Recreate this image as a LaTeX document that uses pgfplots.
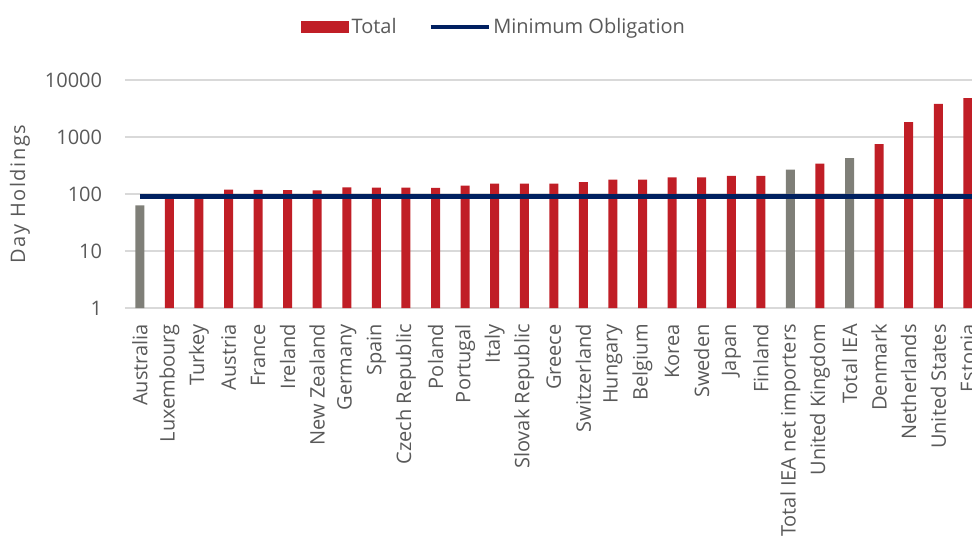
\documentclass[border=0pt]{standalone}
\usepackage{pgfplots}
\pgfplotsset{compat=1.18}
\usepackage{fontspec}
\setmainfont{Open Sans}
\definecolor{barred}{RGB}{192,30,38}
\definecolor{bargrey}{RGB}{127,127,120}
\definecolor{navy}{RGB}{0,32,96}
\definecolor{gridc}{RGB}{217,217,217}
\definecolor{txt}{RGB}{89,89,89}
\begin{document}
\begin{tikzpicture}
\begin{axis}[
  scale only axis,
  width=635.25pt, height=171pt,
  ymode=log,
  ymin=1, ymax=10000,
  xmin=-0.5, xmax=28.14,
  ytick={1,10,100,1000,10000},
  yticklabels={1,10,100,1000,10000},
  xtick={0,...,28},
  xticklabels={Australia,Luxembourg,Turkey,Austria,France,Ireland,New Zealand,Germany,Spain,Czech Republic,Poland,Portugal,Italy,Slovak Republic,Greece,Switzerland,Hungary,Belgium,Korea,Sweden,Japan,Finland,Total IEA net importers,United Kingdom,Total IEA,Denmark,Netherlands,United States,Estonia},
  xticklabel style={rotate=90, anchor=east, font=\fontsize{15}{18}\selectfont, text=txt, inner sep=0pt, xshift=-12pt},
  yticklabel style={font=\fontsize{15}{18}\selectfont, text=txt, inner sep=0pt, xshift=-17pt},
  major tick length=0pt,
  minor tick length=0pt,
  ymajorgrids,
  grid style={gridc, line width=1pt},
  axis line style={draw=none},
  ylabel={Day Holdings},
  ylabel style={font=\fontsize{15}{18}\selectfont\addfontfeatures{LetterSpace=8}, text=txt, at={(rel axis cs:0,0.5)}, anchor=center, yshift=78.75pt},
  legend style={draw=none, fill=none, at={(rel axis cs:0.436,1.232)}, anchor=center,
    font=\fontsize{15}{18}\selectfont, text=txt, legend columns=2,
    /tikz/every even column/.append style={column sep=22pt}},
  clip=true,
]
\addplot[ybar, bar width=6.75pt, bar shift=0pt, fill=barred, draw=none,
  legend image code/.code={\fill[barred] (-4pt,-4.5pt) rectangle (32pt,4.5pt);}]
  coordinates {(1,92) (2,91) (3,119) (4,118) (5,117) (6,116) (7,131) (8,130) (9,129) (10,128) (11,140) (12,152) (13,152) (14,152) (15,162) (16,178) (17,178) (18,195) (19,195) (20,209) (21,209) (23,340) (25,754) (26,1830) (27,3830) (28,4800)};
\addlegendentry{Total}
\addplot[ybar, bar width=6.75pt, bar shift=0pt, fill=bargrey, draw=none, forget plot]
  coordinates {(0,63) (22,267) (24,428)};
\addplot[navy, line width=3.6pt, mark=none,
  legend image code/.code={\draw[navy, line width=3pt] (0pt,0pt) -- (43.5pt,0pt);}]
  coordinates {(0,90) (28.14,90)};
\addlegendentry{Minimum Obligation}
\coordinate (O) at (rel axis cs:0,0);
\end{axis}
\pgfresetboundingbox
\path[use as bounding box] ([shift={(-93.75pt,-179.25pt)}]O) rectangle ++(729pt,410.25pt);
\end{tikzpicture}
\end{document}
